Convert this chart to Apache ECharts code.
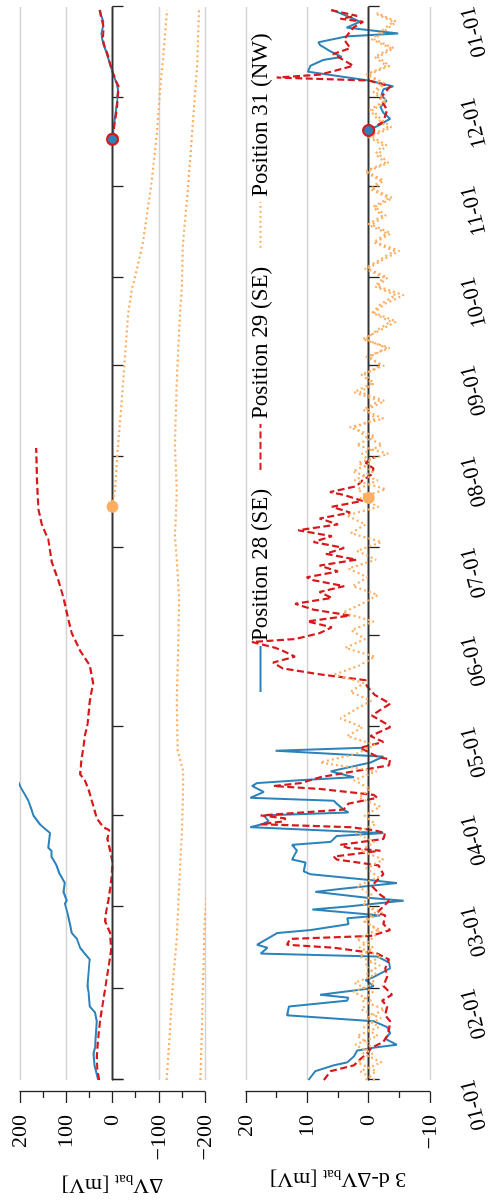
<!DOCTYPE html>
<html>
<head>
<meta charset="utf-8">
<script src="https://cdn.jsdelivr.net/npm/echarts@6/dist/echarts.min.js"></script>
<style>
  html, body { margin: 0; padding: 0; background: #fff; }
  body { width: 495px; height: 1204px; overflow: hidden; position: relative; }
  /* the figure is laid out landscape and turned a quarter turn counter-clockwise */
  #chart {
    position: absolute; left: 0; top: 0;
    width: 1204px; height: 495px;
    transform-origin: 0 0;
    transform: translate(0, 1204px) rotate(-90deg);
  }
</style>
</head>
<body>
<div id="chart"></div>
<script>
// ---- data: day offsets from 1 January, values in mV ----

// battery voltage change relative to the reference day
const p28LevelLateDays   = [320, 324, 328, 333, 337, 339, 341, 344, 347, 350, 352, 354, 356, 358, 360, 362, 364];
const p28LevelLateValues = [0, -2, -6, -10, -12, -9, -4, 2, 8, 14, 19, 22, 24, 21, 20, 24, 27];
const p28LevelDays   = [0, 5, 9, 11, 20, 23, 25, 30, 32, 40, 41, 43, 45, 48, 50, 53, 56, 60, 61, 64, 67, 70, 73, 76, 78, 79, 84, 86, 87, 90, 92, 95, 100, 103, 106, 110, 113];
const p28LevelValues = [31, 39, 41, 38, 34, 38, 49, 52, 54, 50, 49, 60, 70, 77, 88, 92, 96, 103, 99, 106, 103, 114, 121, 132, 132, 139, 135, 150, 157, 171, 175, 182, 200, 208, 214, 222, 228];

const p29LevelLateDays   = [320, 325, 330, 336, 338, 340, 343, 346, 349, 352, 354, 356, 358, 360, 362, 364];
const p29LevelLateValues = [0, -4, -9, -12, -13, -7, 0, 6, 11, 18, 21, 20, 19, 22, 25, 28];
const p29LevelDays   = [0, 4, 8, 14, 20, 27, 34, 40, 44, 50, 54, 57, 61, 65, 69, 74, 78, 82, 85, 86, 89, 93, 95, 99, 102, 104, 109, 113, 117, 121, 129, 135, 141, 146, 152, 157, 164, 170, 176, 184, 189, 194, 203, 209, 215];
const p29LevelValues = [29, 33, 34, 31, 27, 20, 13, 7, 3, 5, 16, 14, 9, 5, 2, 0, 5, 11, 7, 20, 34, 41, 45, 52, 60, 70, 67, 63, 60, 54, 49, 42, 49, 70, 88, 96, 106, 117, 131, 139, 153, 160, 163, 164, 165];

const p31LevelFirstDays   = [195, 197, 200, 216, 231, 246, 261, 269, 276, 285, 306, 322, 337, 347, 364];
const p31LevelFirstValues = [0, -1, -5, -12, -20, -27, -34, -42, -53, -66, -85, -96, -103, -109, -118];
const p31LevelSecondDays   = [0, 16, 27, 34, 48, 59, 72, 84, 95, 105, 109, 112, 129, 147, 164, 177, 185, 200, 216, 238, 261, 270, 284, 303, 322, 345, 364];
const p31LevelSecondValues = [-117, -124, -128, -131, -139, -142, -146, -150, -152, -153, -146, -141, -139, -142, -144, -139, -135, -139, -135, -139, -146, -150, -152, -163, -172, -183, -187];
const p31LevelThirdDays   = [0, 10, 20, 30, 40, 48, 55, 62];
const p31LevelThirdValues = [-190, -192, -194, -195, -197, -198, -200, -203];

// three-day change of the battery voltage
const p28DiffLateDays   = [323, 325, 327, 329, 331, 333, 335, 337, 338, 340, 343, 345, 347, 348, 350, 352, 353, 355, 356, 358, 360, 362, 364];
const p28DiffLateValues = [0, -1.9, -3.5, -2.4, -1.9, -2.9, -2.1, -2.4, -4.0, 0, 9.9, 9.5, 7.4, 4.4, 6.3, 7.9, 8.2, 3.6, -4.8, 3.6, 1.4, 3.6, 6.0];
const p28DiffDays   = [0, 3, 5, 6, 8, 10, 11, 12, 14, 16, 18, 20, 22, 25, 27, 28, 29, 31, 32, 34, 35, 38, 40, 42, 43, 45, 46, 50, 51, 53, 55, 56, 58, 59, 61, 62, 64, 65, 67, 68, 70, 71, 74, 75, 78, 80, 81, 83, 84, 86, 87, 88, 90, 91, 92, 94, 95, 96, 98, 100, 101, 102, 103, 105, 108, 110, 112, 113];
const p28DiffValues = [9.8, 8.7, 5.7, 3.5, 2.4, 1.9, -0.8, -4.6, -2.7, -3.5, -3.0, -0.8, 13.3, 13.0, 3.5, 3.3, 7.9, 0.3, -0.8, 0.5, -0.8, -3.5, -3.3, -1.4, 17.6, 16.5, 18.2, 14.9, 9.5, 3.3, 3.5, -1.9, 9.2, 3.5, -5.7, 0.3, 8.7, 4.6, -4.6, -0.3, 9.5, 10.6, 10.3, 12.5, 11.7, 12.5, 6.2, 5.2, -2.4, 19.3, 17.4, 16.3, 17.1, 3.3, 4.1, 5.2, 5.7, 19.3, 17.1, 19.0, 18.2, 11.1, 2.4, 6.2, -0.3, -2.4, 15.2, 1.1];

const p29DiffLateDays   = [323, 326, 330, 334, 338, 340, 341, 342, 345, 349, 351, 354, 358, 360, 361, 362, 364];
const p29DiffLateValues = [0, -2.4, -3.0, -1.9, -3.5, 0, 15.0, 7.9, 2.5, 5.8, 3.0, 4.0, 2.5, 0.9, 4.6, 1.9, 6.3];
const p29DiffDays   = [0, 3, 5, 7, 9, 11, 13, 15, 17, 20, 22, 25, 27, 29, 32, 35, 38, 41, 43, 45, 46, 48, 49, 51, 53, 56, 57, 59, 61, 63, 66, 68, 70, 73, 75, 76, 78, 79, 80, 82, 84, 85, 86, 87, 88, 89, 90, 92, 94, 96, 97, 99, 100, 101, 103, 105, 107, 109, 110, 113, 115, 117, 120, 121, 124, 128, 131, 134, 136, 138, 140, 142, 144, 146, 147, 149, 150, 152, 154, 156, 158, 160, 162, 164, 166, 168, 170, 171, 173, 175, 177, 179, 181, 183, 185, 187, 189, 191, 193, 195, 197, 199, 200, 202, 204, 206, 208, 210, 212];
const p29DiffValues = [7.3, 6.2, 2.4, 1.4, 0.3, -0.5, -2.4, -3.0, -3.3, -3.5, -2.7, -3.0, -2.2, -3.8, -2.4, -3.0, -2.7, -3.3, -1.4, 5.7, 13.3, 12.8, -0.3, -3.5, -2.4, -2.7, -1.4, -2.4, -3.3, -1.9, -0.5, -1.4, -2.4, -1.6, 5.2, 5.7, -1.9, 3.5, 4.6, -2.4, -2.7, -0.8, 3.0, 17.6, 13.8, 13.6, 17.6, 4.1, 3.3, -1.4, -0.8, 7.9, 15.5, 11.1, 7.9, 2.4, -3.3, -3.5, -1.4, 1.4, -2.4, -0.3, -3.5, -3.0, -0.5, -3.5, -1.0, 0.3, 0.5, 8.0, 14.0, 15.6, 12.0, 14.0, 15.2, 19.0, 12.0, 8.0, 6.0, 10.0, 3.0, 9.0, 12.0, 6.0, 8.0, 4.0, 9.0, 10.1, 5.0, 8.0, 2.0, 7.0, 4.0, 9.0, 6.0, 11.5, 5.0, 8.0, 3.0, 6.0, 1.0, 4.0, 6.3, 2.0, 1.0, -0.5, -0.8, 0.5, -1.0];

const p31DiffFirstDays   = [198, 201, 204, 207, 210, 213, 216, 219, 222, 225, 228, 231, 234, 237, 240, 243, 246, 249, 252, 255, 258, 261, 264, 267, 270, 273, 276, 279, 282, 285, 288, 291, 294, 297, 300, 303, 306, 309, 312, 315, 318, 321, 324, 327, 330, 333, 336, 339, 342, 345, 348, 351, 354, 357, 360, 363];
const p31DiffFirstValues = [0, 1.8, -1.5, 2.6, -0.4, 1.1, -2.2, 0.6, 2.2, -1.1, 0.3, -2.6, 1.4, -0.9, 0.7, -1.9, -0.2, -2.9, 0.5, -1.3, -3.6, -0.6, -2.0, -4.4, -1.0, -2.5, 0.6, -1.8, -4.2, -0.8, -3.0, 0.1, -2.2, -0.7, -3.3, -0.3, -1.9, 0.6, -2.7, -1.1, -2.3, 0.2, -3.1, -1.4, -0.2, -2.5, -0.8, -2.1, 0.4, -2.9, -1.0, -3.6, -0.5, -2.2, -4.0, -0.9];
const p31DiffSecondDays   = [0, 3, 6, 9, 12, 15, 18, 21, 24, 27, 30, 33, 36, 39, 42, 45, 48, 51, 54, 57, 60, 63, 66, 69, 72, 75, 78, 81, 84, 87, 90, 93, 96, 99, 102, 105, 108, 111, 114, 117, 120, 123, 126, 129, 132, 135, 138, 141, 144, 147, 150, 153, 156, 159, 162, 165, 168, 171, 174, 177, 180, 183, 186, 189, 192, 195, 198, 201, 204, 207, 210, 213, 216, 219, 222, 225, 228, 231, 234, 237, 240, 243, 246, 249, 252, 255, 258, 261, 264, 267, 270, 273, 276, 279, 282, 285, 288, 291, 294, 297, 300, 303, 306, 309, 312, 315, 318, 321, 324, 327, 330, 333, 336, 339, 342, 345, 348, 351, 354, 357, 360, 363];
const p31DiffSecondValues = [0.5, -1.2, 1.8, -0.6, 2.2, -1.5, 0.8, -2.0, 1.2, -0.4, 2.5, -1.0, 0.3, -1.8, 1.5, -0.8, 2.0, -1.4, 0.6, -2.2, 1.0, -0.5, 1.9, -1.6, 0.4, -2.4, 1.3, -0.9, 2.1, -1.1, 0.7, -1.9, 1.6, -0.3, 2.4, -1.3, 7.9, 2.0, -1.0, 3.5, 1.0, 4.6, 2.2, -0.4, 3.0, 0.8, 5.5, 1.5, -1.0, 3.8, 0.6, 2.8, -0.8, 4.2, 1.1, -1.5, 2.6, 0.2, 3.3, -1.2, 1.9, -2.1, 2.9, 0.5, 3.6, -1.6, 1.4, -2.8, 2.3, -0.7, 1.7, -3.2, 2.0, -1.0, 3.1, -2.4, 0.9, -1.7, 2.4, -0.6, 1.2, -2.5, 0.4, -3.4, 1.0, -1.8, -4.5, -0.9, -2.6, -5.7, -1.4, -3.1, 0.2, -2.3, -5.0, -1.2, -3.6, -0.5, -2.8, -1.0, -3.9, -0.8, -2.4, 0.3, -3.2, -1.6, -2.9, -0.4, -3.7, -1.9, -0.6, -3.0, -1.2, -2.6, 0.1, -3.4, -1.5, -4.1, -0.9, -2.7, -4.5, -1.3];
const p31DiffThirdDays   = [0, 3, 6, 9, 12, 15, 18, 21, 24, 27, 30, 33, 36, 39, 42, 45, 48, 51, 54, 57, 60];
const p31DiffThirdValues = [-1.0, 1.4, -2.1, 0.9, -0.3, 1.9, -1.7, 0.4, -2.6, 1.1, -0.7, 2.3, -1.2, 0.6, -2.0, 1.5, -0.5, -1.9, 0.8, -1.1, 0.3];

// reference days (marker positions)
const refDaysLevel = { p28: 320, p31: 195 };
const refDaysDiff  = { p28: 323, p31: 198 };

// ---- helpers ----
const YEAR = 2022;
function dayToTime(d) { return new Date(YEAR, 0, 1 + d).getTime(); }
function pairs(days, values) { return days.map((d, i) => [dayToTime(d), values[i]]); }
function pad2(n) { return (n < 10 ? '0' : '') + n; }
function minus(v) { return v < 0 ? '\u2212' + Math.abs(v) : String(v); }

const SERIF = '"Liberation Serif", "DejaVu Serif", serif';
const BLUE = '#2b83ba', RED = '#d7191c', ORANGE = '#fdae61';
const FONT = 22;

const styles = {
  'Position 28 (SE)': { color: BLUE,   lineStyle: { color: BLUE,   width: 2,   type: 'solid' } },
  'Position 29 (SE)': { color: RED,    lineStyle: { color: RED,    width: 2.2, type: [7, 3.5] } },
  'Position 31 (NW)': { color: ORANGE, lineStyle: { color: ORANGE, width: 2.2, type: [2, 3] } }
};

function lineSeries(name, panel, data, z) {
  return {
    type: 'line', name: name, xAxisIndex: panel, yAxisIndex: panel,
    data: data, symbol: 'none', showSymbol: false, clip: true, z: z,
    itemStyle: { color: styles[name].color },
    lineStyle: styles[name].lineStyle
  };
}

function zeroLine(panel) {
  return {
    type: 'line', xAxisIndex: panel, yAxisIndex: panel, data: [], z: 1,
    markLine: {
      silent: true, symbol: 'none', label: { show: false },
      lineStyle: { color: '#333', width: 1.4, type: 'solid' },
      data: [{ yAxis: 0 }]
    }
  };
}

function markers(panel, refs) {
  return [
    { type: 'scatter', xAxisIndex: panel, yAxisIndex: panel, z: 10, symbolSize: 11,
      itemStyle: { color: BLUE, borderColor: RED, borderWidth: 2.2, opacity: 1 },
      data: [[dayToTime(refs.p28), 0]] },
    { type: 'scatter', xAxisIndex: panel, yAxisIndex: panel, z: 10, symbolSize: 12,
      itemStyle: { color: ORANGE, opacity: 1 },
      data: [[dayToTime(refs.p31), 0]] }
  ];
}

function timeAxis(panel, offset, showLabels) {
  return {
    type: 'time', gridIndex: panel,
    min: dayToTime(0), max: new Date(YEAR + 1, 0, 1).getTime(),
    splitNumber: 12, minInterval: 28 * 86400000, maxInterval: 31 * 86400000,
    offset: offset,
    axisLine: { show: true, lineStyle: { color: '#222', width: 1.3 } },
    axisTick: { show: true, length: 11, lineStyle: { color: '#222', width: 1.3 } },
    splitLine: { show: false },
    axisLabel: {
      show: showLabels, rotate: 14, margin: 26, fontSize: FONT, fontFamily: SERIF, color: '#000',
      showMinLabel: true, showMaxLabel: true,
      formatter: function (v) { const d = new Date(v); return pad2(d.getMonth() + 1) + '-' + pad2(d.getDate()); }
    }
  };
}

function valueAxis(panel, min, max, interval, nameParts) {
  return {
    type: 'value', gridIndex: panel, min: min, max: max, interval: interval,
    offset: 12,
    name: nameParts,
    nameLocation: 'middle', nameRotate: 90, nameGap: 74,
    nameTextStyle: {
      color: '#000', fontFamily: SERIF, fontSize: FONT,
      rich: {
        t: { fontSize: FONT, fontFamily: SERIF, color: '#000', lineHeight: 26 },
        s: { fontSize: 15, fontFamily: SERIF, color: '#000', lineHeight: 16, verticalAlign: 'bottom' }
      }
    },
    axisLine: { show: true, lineStyle: { color: '#222', width: 1.3 } },
    axisTick: { show: true, length: 11, lineStyle: { color: '#222', width: 1.3 } },
    minorTick: { show: true, splitNumber: 2, length: 6, lineStyle: { color: '#222', width: 1.3 } },
    splitLine: { show: true, lineStyle: { color: '#d4d4d4', width: 1.3 } },
    axisLabel: { margin: 23, fontSize: FONT, fontFamily: SERIF, color: '#000', formatter: minus }
  };
}

const series = [
  zeroLine(0), zeroLine(1),
  // upper panel: voltage change
  lineSeries('Position 28 (SE)', 0, pairs(p28LevelDays, p28LevelValues), 3),
  lineSeries('Position 28 (SE)', 0, pairs(p28LevelLateDays, p28LevelLateValues), 3),
  lineSeries('Position 29 (SE)', 0, pairs(p29LevelDays, p29LevelValues), 4),
  lineSeries('Position 29 (SE)', 0, pairs(p29LevelLateDays, p29LevelLateValues), 4),
  lineSeries('Position 31 (NW)', 0, pairs(p31LevelFirstDays, p31LevelFirstValues), 5),
  lineSeries('Position 31 (NW)', 0, pairs(p31LevelSecondDays, p31LevelSecondValues), 5),
  lineSeries('Position 31 (NW)', 0, pairs(p31LevelThirdDays, p31LevelThirdValues), 5),
  // lower panel: three-day change
  lineSeries('Position 28 (SE)', 1, pairs(p28DiffDays, p28DiffValues), 3),
  lineSeries('Position 28 (SE)', 1, pairs(p28DiffLateDays, p28DiffLateValues), 3),
  lineSeries('Position 29 (SE)', 1, pairs(p29DiffDays, p29DiffValues), 4),
  lineSeries('Position 29 (SE)', 1, pairs(p29DiffLateDays, p29DiffLateValues), 4),
  lineSeries('Position 31 (NW)', 1, pairs(p31DiffFirstDays, p31DiffFirstValues), 5),
  lineSeries('Position 31 (NW)', 1, pairs(p31DiffSecondDays, p31DiffSecondValues), 5),
  lineSeries('Position 31 (NW)', 1, pairs(p31DiffThirdDays, p31DiffThirdValues), 5)
].concat(markers(0, refDaysLevel), markers(1, refDaysDiff));

const chart = echarts.init(document.getElementById('chart'), null, { renderer: 'canvas', width: 1204, height: 495 });
chart.setOption({
  animation: false,
  backgroundColor: '#fff',
  textStyle: { fontFamily: SERIF },
  grid: [
    { left: 124, right: 7, top: 20, height: 185, containLabel: false },
    { left: 124, right: 7, top: 246, height: 184, containLabel: false }
  ],
  legend: {
    data: ['Position 28 (SE)', 'Position 29 (SE)', 'Position 31 (NW)'],
    left: 506, top: 244, orient: 'horizontal',
    itemWidth: 46, itemHeight: 14, itemGap: 18,
    itemStyle: { opacity: 0 },
    textStyle: { fontSize: 23, fontFamily: SERIF, color: '#000' },
    selectedMode: false
  },
  xAxis: [timeAxis(0, 10, false), timeAxis(1, 12, true)],
  yAxis: [
    valueAxis(0, -200, 200, 100, '{t|\u0394V}{s|bat}{t| [mV]}'),
    valueAxis(1, -10, 20, 10, '{t|3 d-\u0394V}{s|bat}{t| [mV]}')
  ],
  series: series
});
</script>
</body>
</html>
